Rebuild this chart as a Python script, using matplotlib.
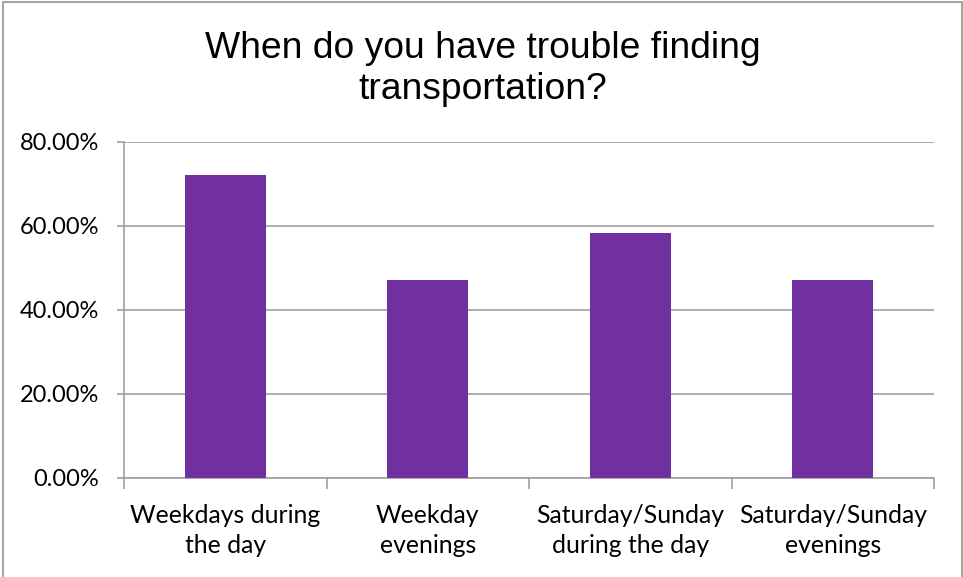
import matplotlib
matplotlib.use("Agg")
import matplotlib.pyplot as plt
from matplotlib.patches import Rectangle
from matplotlib.ticker import FuncFormatter, FixedLocator

categories = ["Weekdays during\nthe day", "Weekday\nevenings",
              "Saturday/Sunday\nduring the day", "Saturday/Sunday\nevenings"]
values = [72.22, 47.22, 58.33, 47.22]
yticks = [0, 20, 40, 60, 80]
title = "When do you have trouble finding\ntransportation?"

W, H = 963, 577
fig = plt.figure(figsize=(W / 100, H / 100), dpi=100)
fig.patch.set_facecolor("white")

# outer border
fig.add_artist(Rectangle((2.5 / W, -0.01), (959.5) / W, (H - 1.5) / H + 0.01,
                         transform=fig.transFigure, fill=False,
                         edgecolor="#a6a6a6", linewidth=1.5))

left, right, top, bottom = 124, 934, 142, 478
ax = fig.add_axes([left / W, 1 - bottom / H, (right - left) / W, (bottom - top) / H])

grid_c = "#a0a0a0"
x = list(range(len(categories)))
ax.bar(x, values, width=0.4, color="#7030A0", zorder=3)
ax.set_xlim(-0.5, len(categories) - 0.5)
ax.set_ylim(0, 80)

ax.set_yticks(yticks)
ax.yaxis.set_major_formatter(FuncFormatter(lambda v, p: f"{v:.2f}%"))
ax.grid(axis="y", color=grid_c, linewidth=1.2, zorder=0)
ax.set_axisbelow(True)

for s in ["top", "right"]:
    ax.spines[s].set_visible(False)
for s in ["left", "bottom"]:
    ax.spines[s].set_color(grid_c)
    ax.spines[s].set_linewidth(1.2)

tick_font = "Lato"
ax.set_xticks(x)
ax.set_xticklabels(categories, fontsize=17.8, family=tick_font, linespacing=1.36)
ax.tick_params(axis="x", length=0, pad=19, colors="black")
ax.tick_params(axis="y", length=5, width=1.2, color=grid_c, pad=13, labelsize=17)
for lab in ax.get_yticklabels():
    lab.set_family(tick_font)

# x-axis tick marks at category boundaries
ax.xaxis.set_minor_locator(FixedLocator([i - 0.5 for i in range(len(categories) + 1)]))
ax.tick_params(axis="x", which="minor", length=8, width=1.2, color=grid_c)

fig.text(483 / W, 1 - 69 / H, title, ha="center", va="center", fontsize=26.8,
         family="Liberation Sans", linespacing=1.22)

fig.savefig("out.png", dpi=100, facecolor="white")
